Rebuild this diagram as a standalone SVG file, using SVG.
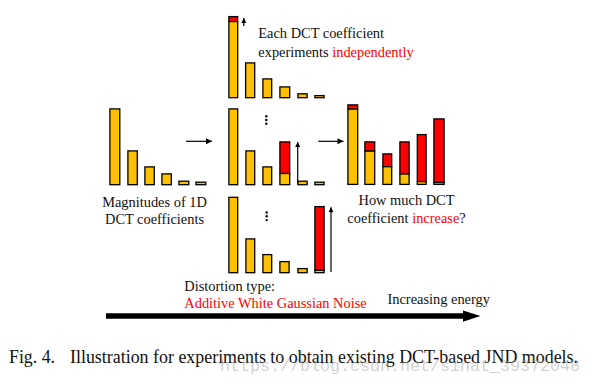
<svg xmlns="http://www.w3.org/2000/svg" width="593" height="386" viewBox="0 0 593 386">
<defs>
<style>
.y{fill:#FFC000;stroke:#000;stroke-width:1.3}
.r{fill:#FF0000;stroke:#000;stroke-width:1.3}
.t{font-family:"Liberation Serif","Times New Roman",serif;font-size:14.4px;fill:#111}
.red{fill:#FF0000}
.c{font-family:"Liberation Serif","Times New Roman",serif;font-size:19px;fill:#111}
.wm{font-family:"Liberation Mono","DejaVu Sans Mono",monospace;font-size:17px;fill:#9a9a9a;fill-opacity:0.45}
.ln{stroke:#000;stroke-width:1.2;fill:none}
.dot{fill:#000}
</style>
<marker id="ah" viewBox="0 0 10 10" refX="10" refY="5" markerWidth="7" markerHeight="6" markerUnits="userSpaceOnUse" orient="auto">
<path d="M0,0 L10,5 L0,10 z" fill="#000"/>
</marker>
<marker id="ahs" viewBox="0 0 10 10" refX="10" refY="5" markerWidth="6" markerHeight="5" markerUnits="userSpaceOnUse" orient="auto">
<path d="M0,0 L10,5 L0,10 z" fill="#000"/>
</marker>
</defs>
<rect width="593" height="386" fill="#fff"/>

<g id="chart-original">
<rect class="y" x="109.9" y="108.9" width="9.9" height="75.8"/>
<rect class="y" x="127.9" y="150.9" width="9.4" height="33.8"/>
<rect class="y" x="144.9" y="166.9" width="9.4" height="17.8"/>
<rect class="y" x="161.9" y="173.9" width="9.4" height="10.8"/>
<rect class="y" x="178.9" y="181.2" width="9.9" height="3.5"/>
<rect class="y" x="195.9" y="182.2" width="9.9" height="2.5"/>
<text class="t" x="154.5" y="206.5" text-anchor="middle">Magnitudes of 1D</text>
<text class="t" x="154.5" y="224" text-anchor="middle">DCT coefficients</text>
</g>

<g id="chart-top">
<rect class="r" x="228.9" y="16.6" width="8.8" height="5"/>
<rect class="y" x="228.9" y="21.6" width="8.8" height="76.1"/>
<rect class="y" x="245.6" y="62.9" width="9.1" height="34.8"/>
<rect class="y" x="262.9" y="78.9" width="8.8" height="18.8"/>
<rect class="y" x="279.9" y="86.9" width="9.8" height="10.8"/>
<rect class="y" x="297.9" y="93.8" width="9.2" height="3.9"/>
<rect class="y" x="314.9" y="95.6" width="9.2" height="2.1"/>
<text class="t" x="258.3" y="38.3">Each DCT coefficient</text>
<text class="t" x="258.3" y="56.7">experiments <tspan class="red">independently</tspan></text>
</g>

<g id="chart-middle">
<rect class="y" x="228.9" y="108.9" width="8.8" height="75.8"/>
<rect class="y" x="245.9" y="150.9" width="8.8" height="33.8"/>
<rect class="y" x="262.9" y="166.9" width="8.8" height="17.8"/>
<rect class="r" x="279.9" y="141.9" width="9.8" height="31.6"/>
<rect class="y" x="279.9" y="173.5" width="9.8" height="11.2"/>
<rect class="y" x="297.9" y="181.2" width="9.2" height="3.5"/>
<rect class="y" x="314.9" y="182.2" width="9.2" height="2.5"/>
<circle class="dot" cx="266.3" cy="116.2" r="1.2"/>
<circle class="dot" cx="266.3" cy="120" r="1.2"/>
<circle class="dot" cx="266.3" cy="123.8" r="1.2"/>
</g>

<g id="chart-bottom">
<rect class="y" x="228.9" y="197.3" width="8.8" height="75.4"/>
<rect class="y" x="245.9" y="238.9" width="8.8" height="33.8"/>
<rect class="y" x="262.9" y="254.6" width="8.8" height="18.1"/>
<rect class="y" x="279.9" y="261.6" width="9.2" height="11.1"/>
<rect class="y" x="297.9" y="268.6" width="9.2" height="4.1"/>
<rect class="r" x="314.9" y="206.6" width="9.2" height="63.6"/>
<rect class="y" x="314.9" y="270.2" width="9.2" height="2.5"/>
<circle class="dot" cx="266.7" cy="212.5" r="1.2"/>
<circle class="dot" cx="266.7" cy="216.3" r="1.2"/>
<circle class="dot" cx="266.7" cy="220.1" r="1.2"/>
<text class="t" x="184.3" y="290.5">Distortion type:</text>
<text class="t red" x="184.3" y="307.8">Additive White Gaussian Noise</text>
</g>

<g id="chart-result">
<rect class="r" x="347.9" y="104.9" width="9.8" height="4.2"/>
<rect class="y" x="347.9" y="109.1" width="9.8" height="75.3"/>
<rect class="r" x="364.9" y="141.9" width="9.8" height="9.2"/>
<rect class="y" x="364.9" y="151.1" width="9.8" height="33.3"/>
<rect class="r" x="382.9" y="153.9" width="8.8" height="12.8"/>
<rect class="y" x="382.9" y="166.7" width="8.8" height="17.7"/>
<rect class="r" x="399.9" y="141.9" width="9.2" height="32.1"/>
<rect class="y" x="399.9" y="174" width="9.2" height="10.4"/>
<rect class="r" x="417.3" y="134.6" width="8.8" height="47"/>
<rect class="y" x="417.3" y="181.6" width="8.8" height="2.8"/>
<rect class="r" x="433.9" y="118.9" width="10.2" height="63.6"/>
<rect class="y" x="433.9" y="182.5" width="10.2" height="1.9"/>
<text class="t" x="406.5" y="205" text-anchor="middle">How much DCT</text>
<text class="t" x="406.5" y="223" text-anchor="middle">coefficient <tspan class="red">increase</tspan>?</text>
</g>

<g id="connectors">
<line class="ln" x1="186" y1="141.3" x2="212" y2="141.3" marker-end="url(#ah)"/>
<line class="ln" x1="318.3" y1="141.3" x2="343.5" y2="141.3" marker-end="url(#ah)"/>
<line class="ln" x1="243.8" y1="26" x2="243.8" y2="18" marker-end="url(#ahs)"/>
<line class="ln" x1="297.7" y1="183.5" x2="297.7" y2="142" marker-end="url(#ahs)"/>
<line class="ln" x1="331" y1="272" x2="331" y2="207.3" marker-end="url(#ahs)"/>
<line x1="106" y1="316" x2="465" y2="316" stroke="#000" stroke-width="5.5"/>
<path d="M463,310.5 L480.5,316 L463,321.7 z" fill="#000"/>
<text class="t" x="387.5" y="304.3">Increasing energy</text>
</g>

<g id="caption">
<text class="c" x="9" y="363.3" textLength="46" lengthAdjust="spacingAndGlyphs">Fig. 4.</text>
<text class="c" x="70" y="363.3" textLength="508" lengthAdjust="spacingAndGlyphs">Illustration for experiments to obtain existing DCT-based JND models.</text>
<text class="wm" x="220" y="370.5" textLength="360" lengthAdjust="spacingAndGlyphs">https://blog.csdn.net/sinat_39372048</text>
</g>
</svg>
